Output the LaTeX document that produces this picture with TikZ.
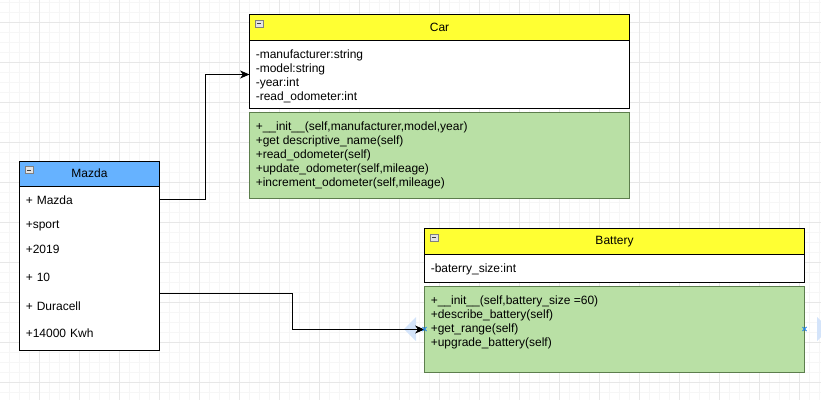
\documentclass[tikz,border=0pt]{standalone}
\usepackage{fontspec}
\setmainfont{Liberation Sans}
\usetikzlibrary{positioning,calc,arrows.meta}
\newcommand{\umlfont}{\fontsize{9}{10.5}\selectfont}

\tikzset{
  gridminor/.style={line width=0.75pt, color={rgb, 255:red, 246; green, 246; blue, 246 }},
  gridmajor/.style={line width=0.75pt, color={rgb, 255:red, 231; green, 231; blue, 231 }},
  umlhead/.style={draw, line width=0.75pt, outer sep=0pt, inner sep=0pt, minimum height=19.5pt, font=\umlfont},
  umlattr/.style={draw, fill=white, line width=0.75pt, outer sep=0pt, inner sep=0pt},
  umlmeth/.style={draw={rgb, 255:red, 93; green, 126; blue, 77 }, fill={rgb, 255:red, 185; green, 224; blue, 165 }, line width=0.75pt, outer sep=0pt, inner sep=0pt, minimum height=64.5pt},
  umltext/.style={anchor=north west, inner sep=0pt, align=left, font=\umlfont},
  umlrow/.style={anchor=west, inner xsep=4.5pt, inner ysep=0pt, text width=96pt, text height=6.5pt, text depth=0pt, align=left, font=\umlfont},
  umlicon/.style={draw={rgb, 255:red, 128; green, 128; blue, 128 }, fill={rgb, 255:red, 228; green, 228; blue, 228 }, line width=0.6pt},
  umlarrow/.style={line width=0.75pt, -{Stealth[length=7pt,width=6pt,inset=2pt]}},
  hovertri/.style={fill={rgb, 255:red, 212; green, 228; blue, 250 }},
  hoverx/.style={line width=0.75pt, color={rgb, 255:red, 30; green, 130; blue, 230 }}
}

\begin{document}
\begin{tikzpicture}[x=0.75pt,y=0.75pt,yscale=-1,xscale=1]
\useasboundingbox (0,0) rectangle (821,400);
% grid
\foreach \gx in {9,19,...,819} \draw[gridminor] (\gx,0) -- (\gx,400);
\foreach \gy in {2,12,...,392} \draw[gridminor] (0,\gy) -- (821,\gy);
\foreach \gx in {39,79,...,819} \draw[gridmajor] (\gx,0) -- (\gx,400);
\foreach \gy in {22,62,...,382} \draw[gridmajor] (0,\gy) -- (821,\gy);

% hover handles round Battery
\fill[hovertri] (404,329) -- (416,317) -- (416,341) -- cycle;
\fill[hovertri] (817,317) -- (829,329) -- (817,341) -- cycle;

% Car
\node[umlhead, fill={rgb, 255:red, 255; green, 255; blue, 51 }, minimum width=285pt, anchor=north west] (car) at (249.5,14.5) {Car};
\node[umlattr, minimum width=285pt, minimum height=51pt, below=0pt of car] (carattr) {};
\node[umlmeth, minimum width=285pt, below=3pt of carattr] (carmeth) {};
\node[umltext] (carattrtxt) at ($(carattr.north west)+(6,9.5)$) {-manufacturer:string\\-model:string\\-year:int\\-read\_odometer:int};
\node[umltext] (carmethtxt) at ($(carmeth.north west)+(6,9.5)$) {+\_\_init\_\_(self,manufacturer,model,year)\\+get descriptive\_name(self)\\+read\_odometer(self)\\+update\_odometer(self,mileage)\\+increment\_odometer(self,mileage)};

% Mazda
\node[umlhead, fill={rgb, 255:red, 102; green, 178; blue, 255 }, minimum width=105pt, minimum height=18.75pt, anchor=north west] (mazda) at (19.5,161) {Mazda};
\node[umlattr, minimum width=105pt, minimum height=123pt, below=0pt of mazda] (mazdaattr) {};
\node[umlrow] (mz1) at (19.5,199.7) {+ Mazda};
\node[umlrow] (mz2) at (19.5,223.7) {+sport};
\node[umlrow] (mz3) at (19.5,249.3) {+2019};
\node[umlrow] (mz4) at (19.5,277.3) {+ 10};
\node[umlrow] (mz5) at (19.5,305.7) {+ Duracell};
\node[umlrow] (mz6) at (19.5,333.3) {+14000 Kwh};
\coordinate (mzout) at (159.5,293.3);

% Battery
\node[umlhead, fill={rgb, 255:red, 255; green, 255; blue, 51 }, minimum width=285pt, anchor=north west] (battery) at (424.5,228.5) {Battery};
\node[umlattr, minimum width=285pt, minimum height=21pt, below=0pt of battery] (batattr) {};
\node[umlmeth, minimum width=285pt, below=3pt of batattr] (batmeth) {};
\node[umltext] (batattrtxt) at ($(batattr.north west)+(6,9.5)$) {-baterry\_size:int};
\node[umltext] (batmethtxt) at ($(batmeth.north west)+(6,9.5)$) {+\_\_init\_\_(self,battery\_size =60)\\+describe\_battery(self)\\+get\_range(self)\\+upgrade\_battery(self)};

% collapse icons
\foreach \h in {car,mazda,battery} {
  \draw[umlicon] ($(\h.north west)+(5.5,5.5)$) rectangle ++(8,7);
  \draw[line width=0.75pt, color={rgb, 255:red, 60; green, 60; blue, 60 }] ($(\h.north west)+(7.5,9)$) -- ++(4,0);
}

% connectors
\draw[umlarrow] (mz1.east) -- ++(45,0) |- (carattr.west);
\draw[umlarrow] (mzout) -- ++(133,0) |- (batmeth.west);

\draw[hoverx] (422.5,327) -- (426.5,331) (422.5,331) -- (426.5,327);
\draw[hoverx] (802.5,327) -- (806.5,331) (802.5,331) -- (806.5,327);
\end{tikzpicture}
\end{document}
